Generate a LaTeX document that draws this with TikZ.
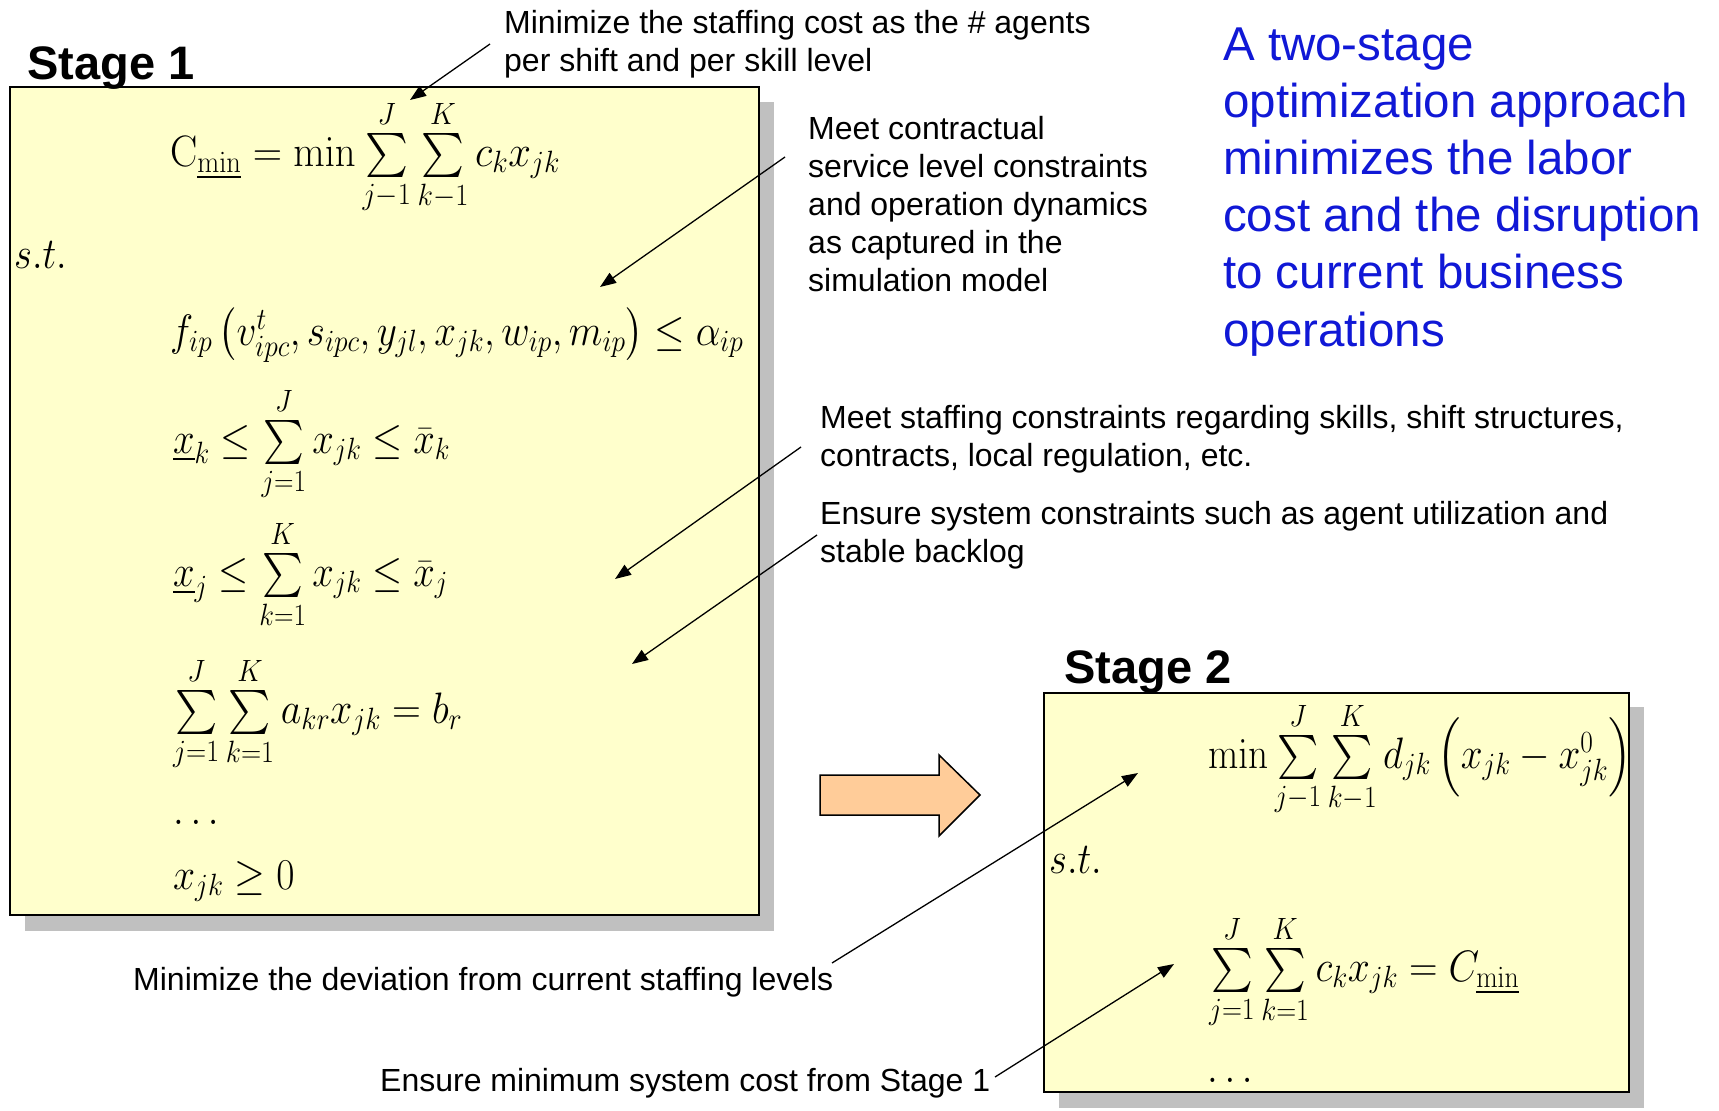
\RequirePackage{fix-cm}
\documentclass[tikz,border=0pt]{standalone}
\usepackage{amsmath}
\usepackage{exscale}
\DeclareFontShape{OMX}{cmex}{m}{n}{<-> cmex10}{}
\usepackage{graphicx}
\usepackage[no-math]{fontspec}
\setmainfont{Liberation Sans}
\usetikzlibrary{arrows.meta}

\definecolor{notepaper}{RGB}{255,255,204}
\definecolor{shadowgray}{RGB}{192,192,192}
\definecolor{arrowfill}{RGB}{255,204,153}
\definecolor{headline}{RGB}{16,24,214}

% formulas are set a little narrower than Computer Modern's natural width
\newcommand{\narrowmath}[2]{\scalebox{#1}[1]{$#2$}}

\tikzset{
  stagebox/.style={draw=black, line width=2pt, fill=notepaper, inner sep=0pt, anchor=north west},
  boxshadow/.style={fill=shadowgray},
  stagetitle/.style={anchor=base west, inner sep=0pt, font=\fontsize{47}{56}\selectfont\bfseries},
  note/.style={anchor=base west, inner sep=0pt, align=left, font=\fontsize{32}{38}\selectfont},
  headlinetext/.style={anchor=base west, inner sep=0pt, align=left, text=headline, font=\fontsize{47.5}{57.2}\selectfont},
  eq/.style={anchor=base west, inner sep=0pt, font=\fontsize{44}{52}\selectfont},
  pointer/.style={line width=1.3pt, -{Triangle[length=16pt,width=12pt]}},
  bigarrow/.style={draw=black, line width=1.5pt, fill=arrowfill, line join=miter}
}

\begin{document}
\begin{tikzpicture}[x=1pt,y=-1pt]
\useasboundingbox (0,0) rectangle (1719,1111);

% ---- Stage 1 box with its shadow
\fill[boxshadow] (25,102) rectangle (774,931);
\node[stagebox, minimum width=749pt, minimum height=828pt] (box1) at (9,86) {};
\node[stagetitle] (title1) at (27,79) {Stage 1};

\node[eq] (obj1) at (170,166) {\narrowmath{0.925}{\mathrm{C}_{\underline{\min}} = \min\sum\limits_{j-1}^{J}\sum\limits_{k-1}^{K} c_k x_{jk}}};
\node[eq] (st1) at (14,268) {\narrowmath{0.88}{s.t.}};
\node[eq] (con1) at (170,345) {\narrowmath{0.89}{f_{ip}\left(v^{t}_{ipc}, s_{ipc}, y_{jl}, x_{jk}, w_{ip}, m_{ip}\right) \le \alpha_{ip}}};
\node[eq] (con2) at (173,453) {\narrowmath{0.88}{\underline{x}_k \le \sum\limits_{j=1}^{J} x_{jk} \le \bar{x}_k}};
\node[eq] (con3) at (173,586) {\narrowmath{0.88}{\underline{x}_j \le \sum\limits_{k=1}^{K} x_{jk} \le \bar{x}_j}};
\node[eq] (con4) at (173,723) {\narrowmath{0.91}{\sum\limits_{j=1}^{J}\sum\limits_{k=1}^{K} a_{kr} x_{jk} = b_r}};
\node[eq] (dots1) at (173,824) {\narrowmath{0.9}{\dots}};
\node[eq] (con5) at (173,889) {\narrowmath{0.9}{x_{jk} \ge 0}};

% ---- Stage 2 box with its shadow
\fill[boxshadow] (1059,707) rectangle (1644,1108);
\node[stagebox, minimum width=585pt, minimum height=399pt] (box2) at (1043,692) {};
\node[stagetitle] (title2) at (1064,683) {Stage 2};

\node[eq] (obj2) at (1208,768) {\narrowmath{0.89}{\min\sum\limits_{j-1}^{J}\sum\limits_{k-1}^{K} d_{jk}\left(x_{jk} - x^{0}_{jk}\right)}};
\node[eq] (st2) at (1049,873) {\narrowmath{0.88}{s.t.}};
\node[eq] (keep) at (1209,981) {\narrowmath{0.9}{\sum\limits_{j=1}^{J}\sum\limits_{k=1}^{K} c_k x_{jk} = C_{\underline{\min}}}};
\node[eq] (dots2) at (1207,1082) {\narrowmath{0.9}{\dots}};

% ---- block arrow from stage 1 to stage 2
\draw[bigarrow] (820,775) -- (939,775) -- (939,755) -- (980,795)
  -- (939,836) -- (939,815) -- (820,815) -- cycle;

% ---- explanatory notes (anchored at the baseline of their last line)
\node[note] (n1) at (504,71) {Minimize the staffing cost as the \# agents\\per shift and per skill level};
\node[note] (n2) at (808,291) {Meet contractual\\service level constraints\\and operation dynamics\\as captured in the\\simulation model};
\node[note] (n3) at (820,466) {Meet staffing constraints regarding skills, shift structures,\\contracts, local regulation, etc.};
\node[note] (n4) at (820,562) {Ensure system constraints such as agent utilization and\\stable backlog};
\node[note] (n5) at (133,990) {Minimize the deviation from current staffing levels};
\node[note] (n6) at (380,1091) {Ensure minimum system cost from Stage 1};

\node[headlinetext] (summary) at (1223,346) {A two-stage\\optimization approach\\minimizes the labor\\cost and the disruption\\to current business\\operations};

% ---- pointer ends
\coordinate (s1) at (490,44);   \coordinate (t1) at (410,100);
\coordinate (s2) at (785,157);  \coordinate (t2) at (600,287);
\coordinate (s3) at (801,447);  \coordinate (t3) at (615,579);
\coordinate (s4) at (817,535);  \coordinate (t4) at (632,664);
\coordinate (s5) at (832,963);  \coordinate (t5) at (1138,773);
\coordinate (s6) at (995,1077); \coordinate (t6) at (1174,964);

\draw[pointer] (s1) -- (t1);
\draw[pointer] (s2) -- (t2);
\draw[pointer] (s3) -- (t3);
\draw[pointer] (s4) -- (t4);
\draw[pointer] (s5) -- (t5);
\draw[pointer] (s6) -- (t6);
\end{tikzpicture}
\end{document}
